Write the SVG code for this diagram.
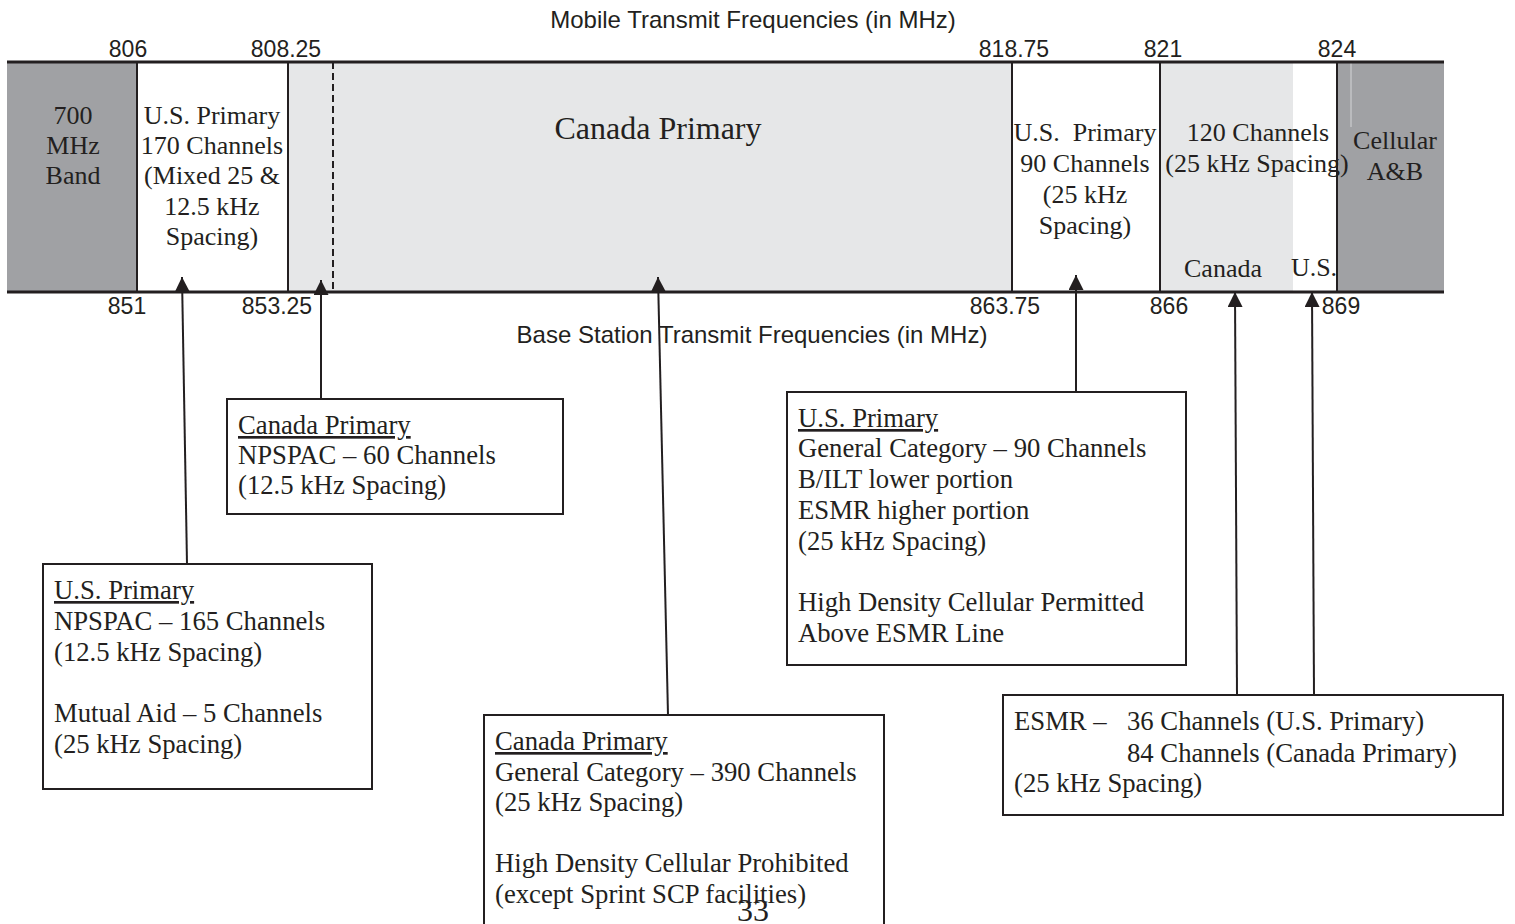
<svg xmlns="http://www.w3.org/2000/svg" width="1515" height="924" viewBox="0 0 1515 924">
  <defs>
    <style>
      .serif { font-family: "Liberation Serif", "Times New Roman", serif; fill: #231f20; font-size: 26px; }
      .note { font-size: 26.7px; }
      .sans { font-family: "Liberation Sans", Arial, sans-serif; fill: #231f20; font-size: 23px; }
      .axis { font-size: 24px; }
      .mid { text-anchor: middle; }
      .ul { text-decoration: underline; }
      .edge { stroke: #231f20; stroke-width: 2; fill: none; }
      .rail { stroke: #231f20; stroke-width: 3; }
      .box { fill: #ffffff; stroke: #231f20; stroke-width: 2; }
      .lead { stroke: #231f20; stroke-width: 2; fill: none; marker-end: url(#tip); }
    </style>
    <marker id="tip" markerUnits="userSpaceOnUse" markerWidth="16" markerHeight="16" refX="15" refY="7.5" orient="auto">
      <path d="M0,0 L15,7.5 L0,15 Z" fill="#231f20"/>
    </marker>
  </defs>

  <rect width="1515" height="924" fill="#ffffff"/>

  <!-- frequency band strip -->
  <g id="band">
    <rect x="7" y="62" width="130" height="230" fill="#a0a1a4"/>
    <rect x="137" y="62" width="151" height="230" fill="#ffffff"/>
    <rect x="288" y="62" width="724" height="230" fill="#e6e7e8"/>
    <rect x="1012" y="62" width="148" height="230" fill="#ffffff"/>
    <rect x="1160" y="62" width="133" height="230" fill="#e6e7e8"/>
    <rect x="1293" y="62" width="44" height="230" fill="#ffffff"/>
    <rect x="1337" y="62" width="107" height="230" fill="#a0a1a4"/>
    <line x1="1351" y1="63" x2="1351" y2="127" stroke="#d4d5d7" stroke-width="1"/>

    <line class="edge" x1="137" y1="62" x2="137" y2="292"/>
    <line class="edge" x1="288" y1="62" x2="288" y2="292"/>
    <line class="edge" x1="333" y1="62" x2="333" y2="292" stroke-dasharray="7,4"/>
    <line class="edge" x1="1012" y1="62" x2="1012" y2="292"/>
    <line class="edge" x1="1160" y1="62" x2="1160" y2="292"/>
    <line class="edge" x1="1337" y1="62" x2="1337" y2="292"/>
    <line class="rail" x1="7" y1="62" x2="1444" y2="62"/>
    <line class="rail" x1="7" y1="292" x2="1444" y2="292"/>
  </g>

  <!-- frequency scale labels -->
  <g id="scale">
    <text class="sans axis mid" x="753" y="28">Mobile Transmit Frequencies (in MHz)</text>
    <text class="sans mid" x="128" y="57">806</text>
    <text class="sans mid" x="286" y="57">808.25</text>
    <text class="sans mid" x="1014" y="57">818.75</text>
    <text class="sans mid" x="1163" y="57">821</text>
    <text class="sans mid" x="1337" y="57">824</text>
    <text class="sans mid" x="127" y="314">851</text>
    <text class="sans mid" x="277" y="314">853.25</text>
    <text class="sans mid" x="1005" y="314">863.75</text>
    <text class="sans mid" x="1169" y="314">866</text>
    <text class="sans mid" x="1341" y="314">869</text>
    <text class="sans axis mid" x="752" y="343">Base Station Transmit Frequencies (in MHz)</text>
  </g>

  <!-- segment captions inside the strip -->
  <g id="seg-700">
    <text class="serif mid" x="73" y="124">700</text>
    <text class="serif mid" x="73" y="154">MHz</text>
    <text class="serif mid" x="73" y="184">Band</text>
  </g>
  <g id="seg-us170">
    <text class="serif mid" x="212" y="124">U.S. Primary</text>
    <text class="serif mid" x="212" y="154">170 Channels</text>
    <text class="serif mid" x="212" y="184">(Mixed 25 &amp;</text>
    <text class="serif mid" x="212" y="215">12.5 kHz</text>
    <text class="serif mid" x="212" y="245">Spacing)</text>
  </g>
  <g id="seg-canada">
    <text class="serif mid" x="658" y="139" style="font-size:32px">Canada Primary</text>
  </g>
  <g id="seg-us90">
    <text class="serif mid" x="1085" y="141" xml:space="preserve">U.S.  Primary</text>
    <text class="serif mid" x="1085" y="172">90 Channels</text>
    <text class="serif mid" x="1085" y="203">(25 kHz</text>
    <text class="serif mid" x="1085" y="234">Spacing)</text>
  </g>
  <g id="seg-esmr">
    <text class="serif mid" x="1258" y="141">120 Channels</text>
    <text class="serif mid" x="1257" y="172">(25 kHz Spacing)</text>
    <text class="serif mid" x="1223" y="277">Canada</text>
    <text class="serif mid" x="1314" y="276">U.S.</text>
  </g>
  <g id="seg-cellular">
    <text class="serif mid" x="1395" y="149">Cellular</text>
    <text class="serif mid" x="1395" y="180">A&amp;B</text>
  </g>

  <!-- leader lines from note boxes to the strip -->
  <g id="connectors">
    <line class="lead" x1="187" y1="564" x2="182" y2="277"/>
    <line class="lead" x1="321" y1="399" x2="321" y2="280"/>
    <line class="lead" x1="668" y1="715" x2="658" y2="277"/>
    <line class="lead" x1="1076" y1="392" x2="1076" y2="275"/>
    <line class="lead" x1="1237" y1="695" x2="1235" y2="292"/>
    <line class="lead" x1="1314" y1="695" x2="1312" y2="292"/>
  </g>

  <!-- note boxes -->
  <g id="note-us-npspac">
    <rect class="box" x="43" y="564" width="329" height="225"/>
    <text class="serif note ul" x="54" y="599">U.S. Primary</text>
    <text class="serif note" x="54" y="630">NPSPAC – 165 Channels</text>
    <text class="serif note" x="54" y="661">(12.5 kHz Spacing)</text>
    <text class="serif note" x="54" y="722">Mutual Aid – 5 Channels</text>
    <text class="serif note" x="54" y="753">(25 kHz Spacing)</text>
  </g>

  <g id="note-canada-npspac">
    <rect class="box" x="227" y="399" width="336" height="115"/>
    <text class="serif note ul" x="238" y="434">Canada Primary</text>
    <text class="serif note" x="238" y="464">NPSPAC – 60 Channels</text>
    <text class="serif note" x="238" y="494">(12.5 kHz Spacing)</text>
  </g>

  <g id="note-canada-general">
    <rect class="box" x="484" y="715" width="400" height="230"/>
    <text class="serif note ul" x="495" y="750">Canada Primary</text>
    <text class="serif note" x="495" y="781">General Category – 390 Channels</text>
    <text class="serif note" x="495" y="811">(25 kHz Spacing)</text>
    <text class="serif note" x="495" y="872">High Density Cellular Prohibited</text>
    <text class="serif note" x="495" y="903">(except Sprint SCP facilities)</text>
    <text class="serif" x="737" y="921" style="font-size:32px">33</text>
  </g>

  <g id="note-us-general">
    <rect class="box" x="787" y="392" width="399" height="273"/>
    <text class="serif note ul" x="798" y="427">U.S. Primary</text>
    <text class="serif note" x="798" y="457">General Category – 90 Channels</text>
    <text class="serif note" x="798" y="488">B/ILT lower portion</text>
    <text class="serif note" x="798" y="519">ESMR higher portion</text>
    <text class="serif note" x="798" y="550">(25 kHz Spacing)</text>
    <text class="serif note" x="798" y="611">High Density Cellular Permitted</text>
    <text class="serif note" x="798" y="642">Above ESMR Line</text>
  </g>

  <g id="note-esmr">
    <rect class="box" x="1003" y="695" width="500" height="120"/>
    <text class="serif note" x="1014" y="730">ESMR –</text>
    <text class="serif note" x="1127" y="730">36 Channels (U.S. Primary)</text>
    <text class="serif note" x="1127" y="762">84 Channels (Canada Primary)</text>
    <text class="serif note" x="1014" y="792">(25 kHz Spacing)</text>
  </g>
</svg>
